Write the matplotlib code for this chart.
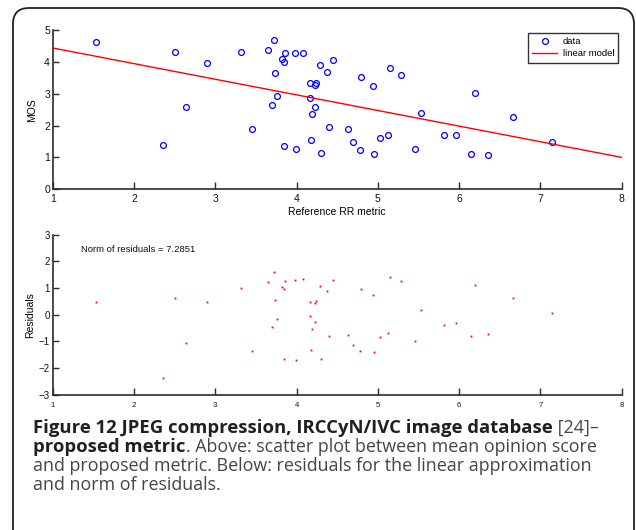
import numpy as np
import matplotlib
matplotlib.use("Agg")
import matplotlib.pyplot as plt
from matplotlib.patches import FancyBboxPatch

# ---- data ----
rr_metric = [1.536, 2.353, 2.504, 2.640, 2.902, 3.312, 3.455, 3.644, 3.694, 3.726,
             3.734, 3.755, 3.824, 3.849, 3.849, 3.857, 3.980, 3.989, 4.079, 4.161,
             4.168, 4.177, 4.186, 4.226, 4.230, 4.242, 4.288, 4.296, 4.378, 4.403,
             4.444, 4.636, 4.694, 4.780, 4.796, 4.940, 4.952, 5.030, 5.128, 5.145,
             5.284, 5.460, 5.534, 5.817, 5.965, 6.146, 6.198, 6.354, 6.662, 7.142]
mos = [4.63, 1.38, 4.31, 2.57, 3.97, 4.31, 1.88, 4.36, 2.65, 4.70,
       3.66, 2.92, 4.08, 3.99, 1.37, 4.28, 4.28, 1.26, 4.28, 3.35,
       2.85, 1.54, 2.35, 3.28, 2.57, 3.35, 3.90, 1.15, 3.67, 1.95,
       4.05, 1.88, 1.49, 1.23, 3.54, 3.24, 1.11, 1.61, 1.72, 3.82,
       3.58, 1.27, 2.38, 1.69, 1.69, 1.11, 3.01, 1.08, 2.28, 1.50]
x_range = [1, 8]
x_ticks = [1, 2, 3, 4, 5, 6, 7, 8]
mos_ticks = [0, 1, 2, 3, 4, 5]
res_ticks = [-3, -2, -1, 0, 1, 2, 3]
norm_text = "Norm of residuals = 7.2851"
legend_labels = ["data", "linear model"]
xlabel_text = "Reference RR metric"
ylabel_top = "MOS"
ylabel_bottom = "Residuals"
caption_lines = [
    [("Figure 12 JPEG compression, IRCCyN/IVC image database", True), (" [24]\u2013", False)],
    [("proposed metric", True), (". Above: scatter plot between mean opinion score", False)],
    [("and proposed metric. Below: residuals for the linear approximation", False)],
    [("and norm of residuals.", False)],
]

xd = np.array(rr_metric)
yd = np.array(mos)
coef = np.polyfit(xd, yd, 1)
residuals = yd - np.polyval(coef, xd)
xl = np.array(x_range, dtype=float)

W, H = 636, 530
DPI = 100
fig = plt.figure(figsize=(W / DPI, H / DPI), dpi=DPI)
fig.patch.set_facecolor("white")

axfont = "Liberation Sans"
spine_col = "#2b2b2b"

def style(ax, ytick_size, xtick_size, xpad):
    for s in ["top", "right"]:
        ax.spines[s].set_visible(False)
    for s in ["left", "bottom"]:
        ax.spines[s].set_color(spine_col)
        ax.spines[s].set_linewidth(1.2)
    ax.tick_params(axis="both", direction="in", colors=spine_col, width=1.0)
    ax.tick_params(axis="x", length=5, labelsize=xtick_size, pad=xpad)
    ax.tick_params(axis="y", length=4, labelsize=ytick_size, pad=2)
    for lab in ax.get_xticklabels() + ax.get_yticklabels():
        lab.set_fontfamily(axfont)
        lab.set_color("#111111")

def px_axes(left, top, right, bottom):
    return [left / W, 1 - bottom / H, (right - left) / W, (bottom - top) / H]

# ---- top axes ----
ax1 = fig.add_axes(px_axes(52.7, 30.0, 621.7, 189.3))
ax1.plot(xd, yd, linestyle="none", marker="o", markersize=4.2, markerfacecolor="none",
         markeredgecolor="#0000ff", markeredgewidth=0.9, label=legend_labels[0])
ax1.plot(xl, np.polyval(coef, xl), color="#ff0000", lw=1.0, label=legend_labels[1])
ax1.set_xlim(x_range)
ax1.set_ylim(0, 5)
ax1.set_xticks(x_ticks)
ax1.set_yticks(mos_ticks)
style(ax1, 7.5, 7.5, 3.5)
ax1.set_xlabel(xlabel_text, fontsize=7.5, family=axfont, labelpad=2)
ax1.set_ylabel(ylabel_top, fontsize=7.5, family=axfont, labelpad=5)
leg = ax1.legend(loc="upper right", bbox_to_anchor=(0.994, 0.982),
                 frameon=True, fancybox=False, borderaxespad=0, handlelength=2.6,
                 handletextpad=0.6, borderpad=0.45, labelspacing=0.35,
                 prop={"family": axfont, "size": 6.8})
leg.get_frame().set_edgecolor("black")
leg.get_frame().set_linewidth(1.0)

# ---- bottom axes ----
ax2 = fig.add_axes(px_axes(52.7, 234.7, 621.7, 394.7))
ax2.plot(xd, residuals, linestyle="none", marker="s", markersize=1.3,
         markerfacecolor="#ff0000", markeredgecolor="#ff0000", markeredgewidth=0)
ax2.set_xlim(x_range)
ax2.set_ylim(-3, 3)
ax2.set_xticks(x_ticks)
ax2.set_yticks(res_ticks)
style(ax2, 7.0, 5.5, 5)
ax2.set_yticklabels([("\u2212%d" % -t) if t < 0 else "%d" % t for t in res_ticks],
                    family=axfont, fontsize=7.0)
ax2.set_ylabel(ylabel_bottom, fontsize=7.5, family=axfont, labelpad=3)
ax2.text(1.35, 2.45, norm_text, fontsize=6.8, family=axfont, va="center", ha="left",
         color="#111111")

# ---- rounded frame ----
frame = FancyBboxPatch((13 / DPI, -0.3), (634 - 13) / DPI, (H - 8) / DPI + 0.3,
                       boxstyle="round,pad=0,rounding_size=0.16",
                       transform=fig.dpi_scale_trans, facecolor="none",
                       edgecolor="#222222", linewidth=1.3, clip_on=False)
fig.add_artist(frame)

# ---- caption ----
capfont = "Open Sans"
bold_size = 13.3
reg_size = 12.9
renderer = fig.canvas.get_renderer()
line_base = [433.0, 452.0, 471.0, 490.0]
for pieces, yb in zip(caption_lines, line_base):
    x_px = 33.0
    for txt, bold in pieces:
        t = fig.text(x_px / W, 1 - yb / H, txt,
                     fontsize=bold_size if bold else reg_size, family=capfont,
                     fontweight="bold" if bold else "normal",
                     color="#231f20" if bold else "#454545",
                     ha="left", va="baseline")
        bb = t.get_window_extent(renderer)
        x_px += bb.width

fig.savefig("out.png", dpi=DPI, facecolor="white")
